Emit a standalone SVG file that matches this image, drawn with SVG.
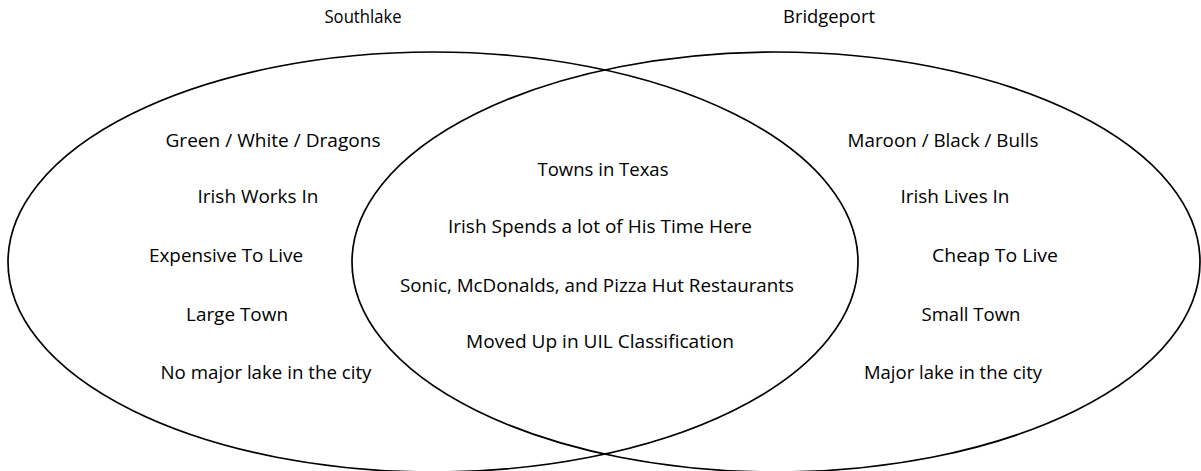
<svg xmlns="http://www.w3.org/2000/svg" width="1201" height="471" viewBox="0 0 1201 471">
<style>
text{font-family:"Open Sans","Liberation Sans",sans-serif;font-size:19px;fill:#000;text-anchor:middle}
.c{fill:none;stroke:#000;stroke-width:1.7}
</style>
<rect width="1201" height="471" fill="#fff"/>
<g id="connectors"></g>
<g id="southlake">
<ellipse class="c" cx="433" cy="262" rx="425" ry="210"/>
<text x="363" y="23" textLength="77" lengthAdjust="spacingAndGlyphs">Southlake</text>
<text x="273" y="147" textLength="215" lengthAdjust="spacingAndGlyphs">Green / White / Dragons</text>
<text x="258" y="203" textLength="121" lengthAdjust="spacingAndGlyphs">Irish Works In</text>
<text x="226" y="262" textLength="154" lengthAdjust="spacingAndGlyphs">Expensive To Live</text>
<text x="237" y="321" textLength="102" lengthAdjust="spacingAndGlyphs">Large Town</text>
<text x="266" y="379" textLength="211" lengthAdjust="spacingAndGlyphs">No major lake in the city</text>
</g>
<g id="bridgeport">
<ellipse class="c" cx="776" cy="262" rx="424" ry="210"/>
<text x="829" y="23" textLength="92" lengthAdjust="spacingAndGlyphs">Bridgeport</text>
<text x="943" y="147" textLength="191" lengthAdjust="spacingAndGlyphs">Maroon / Black / Bulls</text>
<text x="955" y="203" textLength="109" lengthAdjust="spacingAndGlyphs">Irish Lives In</text>
<text x="995" y="262" textLength="126" lengthAdjust="spacingAndGlyphs">Cheap To Live</text>
<text x="971" y="321" textLength="99" lengthAdjust="spacingAndGlyphs">Small Town</text>
<text x="953" y="379" textLength="178" lengthAdjust="spacingAndGlyphs">Major lake in the city</text>
</g>
<g id="both">
<text x="603" y="176" textLength="131" lengthAdjust="spacingAndGlyphs">Towns in Texas</text>
<text x="600" y="233" textLength="304" lengthAdjust="spacingAndGlyphs">Irish Spends a lot of His Time Here</text>
<text x="597" y="292" textLength="394" lengthAdjust="spacingAndGlyphs">Sonic, McDonalds, and Pizza Hut Restaurants</text>
<text x="600" y="348" textLength="268" lengthAdjust="spacingAndGlyphs">Moved Up in UIL Classification</text>
</g>
</svg>
